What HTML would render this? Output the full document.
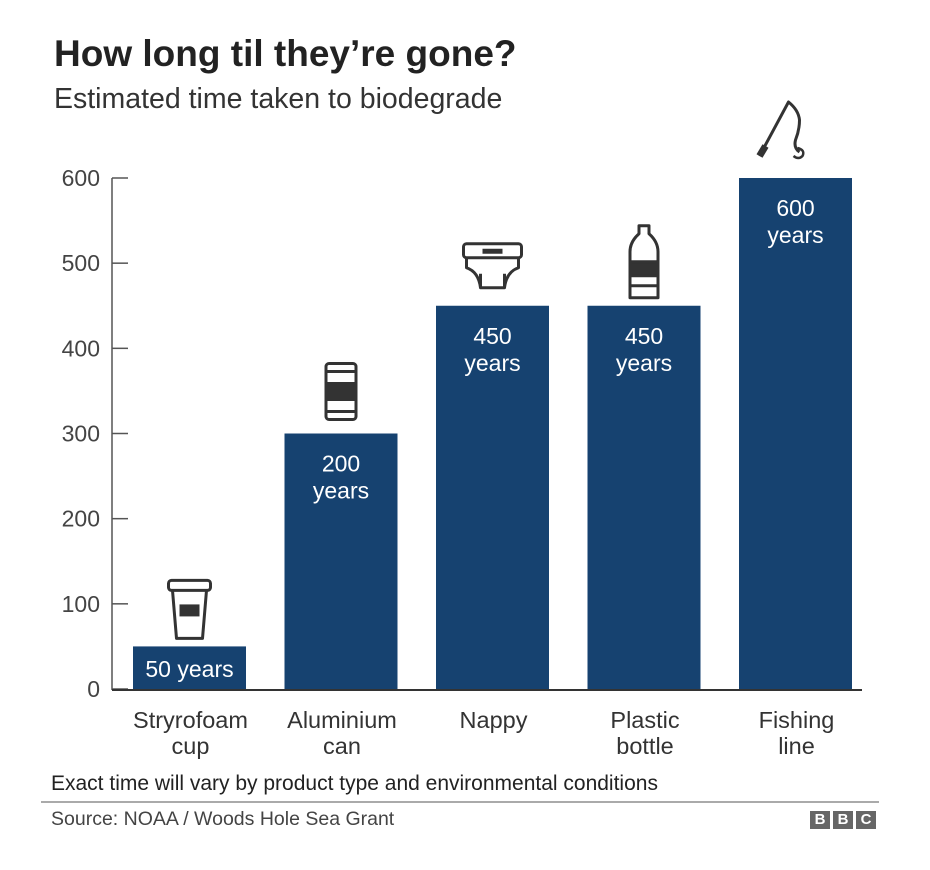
<!DOCTYPE html>
<html><head><meta charset="utf-8"><style>
body{margin:0;background:#fff;font-family:"Liberation Sans",Arial,sans-serif;}
#wrap{position:relative;width:930px;height:870px;overflow:hidden}
.t{position:absolute;white-space:nowrap;line-height:1.15}
</style></head><body>
<div id="wrap">
<div class="t" style="left:54px;top:33px;font-size:37px;font-weight:bold;color:#222">How long til they’re gone?</div>
<div class="t" style="left:54px;top:83px;font-size:28.5px;color:#333">Estimated time taken to biodegrade</div>
<div class="t" style="left:51px;top:772px;font-size:21px;color:#222">Exact time will vary by product type and environmental conditions</div>
<svg id="chart" width="930" height="870" style="position:absolute;left:0;top:0"></svg>
<div style="position:absolute;left:41px;top:801px;width:838px;height:2px;background:#aaa"></div>
<div class="t" style="left:51px;top:808px;font-size:19.5px;color:#444">Source: NOAA / Woods Hole Sea Grant</div>
<div style="position:absolute;left:810px;top:811px;display:flex;gap:3px">
<span style="width:20px;height:18px;background:#666;color:#fff;font:bold 15px 'Liberation Sans';text-align:center;line-height:18px">B</span>
<span style="width:20px;height:18px;background:#666;color:#fff;font:bold 15px 'Liberation Sans';text-align:center;line-height:18px">B</span>
<span style="width:20px;height:18px;background:#666;color:#fff;font:bold 15px 'Liberation Sans';text-align:center;line-height:18px">C</span>
</div>
</div>
<script>
const categories=[["Stryrofoam","cup"],["Aluminium","can"],["Nappy"],["Plastic","bottle"],["Fishing","line"]];
const values=[50,300,450,450,600];
const valueLabels=[["50 years"],["200","years"],["450","years"],["450","years"],["600","years"]];
const yTicks=[0,100,200,300,400,500,600];
const icons=["cup","can","nappy","bottle","rod"];
const NS="http://www.w3.org/2000/svg";
const svg=document.getElementById("chart");
const y0=689,y600=178,x0=112,step=151.5,barW=113,firstX=133;
const y=v=>y0-(v/600)*(y0-y600);
const xb=i=>firstX+i*step;
function mk(tag,attrs,parent){const e=document.createElementNS(NS,tag);for(const k in attrs)e.setAttribute(k,attrs[k]);(parent||svg).appendChild(e);return e;}
const ax=mk("line",{x1:x0,y1:y600,x2:x0,y2:y0+1,stroke:"#555","stroke-width":1.5});


yTicks.forEach(t=>{
 const l=mk("line",{x1:x0,y1:y(t),x2:x0+16,y2:y(t),stroke:"#555","stroke-width":1.5});
 
 
 const tx=mk("text",{x:100,y:y(t)+8,"text-anchor":"end","font-size":23,fill:"#444","font-family":"Liberation Sans"});
 tx.textContent=t;
 
 
});
values.forEach((v,i)=>{
 const x=xb(i);
 const r=mk("rect",{x:x,y:y(v),width:barW,height:y0-y(v),fill:"#164270"});
 
 
 const lab=valueLabels[i];
 lab.forEach((s,j)=>{
  const t=mk("text",{x:x+barW/2,y:lab.length==1?y0-12:y(v)+38+j*27,"text-anchor":"middle","font-size":23,fill:"#fff","font-family":"Liberation Sans"});
  t.textContent=s;
  
  
 });
 categories[i].forEach((s,j)=>{
  const t=mk("text",{x:x+barW/2+1,y:728+j*26,"text-anchor":"middle","font-size":23.5,fill:"#333","font-family":"Liberation Sans"});
  t.textContent=s;
  
  
 });
 const g=mk("g",{transform:`translate(${x+barW/2},${y(v)-8})`,fill:"none",stroke:"#333","stroke-width":3,"stroke-linejoin":"round"});
 
 
 if(icons[i]=="cup"){mk("rect",{x:-21,y:-58,width:42,height:10,rx:3},g);mk("path",{d:"M-17,-48 L-13,0 L13,0 L17,-48"},g);mk("rect",{x:-10,y:-34,width:20,height:12,fill:"#333",stroke:"none"},g);}
 if(icons[i]=="can"){mk("rect",{x:-15,y:-62,width:30,height:56,rx:3},g);mk("line",{x1:-15,y1:-54,x2:15,y2:-54},g);mk("line",{x1:-15,y1:-14,x2:15,y2:-14},g);mk("rect",{x:-15,y:-42,width:30,height:16,fill:"#333"},g);}
 if(icons[i]=="nappy"){mk("rect",{x:-29,y:-54,width:58,height:14,rx:3},g);mk("path",{d:"M-26,-40 L-26,-30 Q-14,-26 -12,-10 L12,-10 Q14,-26 26,-30 L26,-40"},g);mk("rect",{x:-10,y:-49,width:20,height:5,fill:"#333",stroke:"none"},g);mk("line",{x1:-12,y1:-24,x2:-12,y2:-10},g);mk("line",{x1:12,y1:-24,x2:12,y2:-10},g);}
 if(icons[i]=="bottle"){mk("path",{d:"M-5,-72 L5,-72 L5,-64 Q14,-56 14,-46 L14,0 L-14,0 L-14,-46 Q-14,-56 -5,-64 Z"},g);mk("rect",{x:-14,y:-36,width:28,height:14,fill:"#333"},g);mk("line",{x1:-14,y1:-12,x2:14,y2:-12},g);}
 if(icons[i]=="rod"){mk("path",{d:"M-36,-14 L-7,-68 Q3,-60 4,-50 Q4,-40 0,-30 Q-2,-22 4,-18"},g);mk("path",{d:"M-36,-14 L-30,-24",stroke:"#333","stroke-width":7},g);mk("path",{d:"M2,-22 Q10,-20 7,-14 Q3,-10 -2,-14","stroke-width":2.5},g);}
});
const base=mk("line",{x1:x0,y1:y0+1,x2:862,y2:y0+1,stroke:"#333","stroke-width":2});


</script>
</body></html>
